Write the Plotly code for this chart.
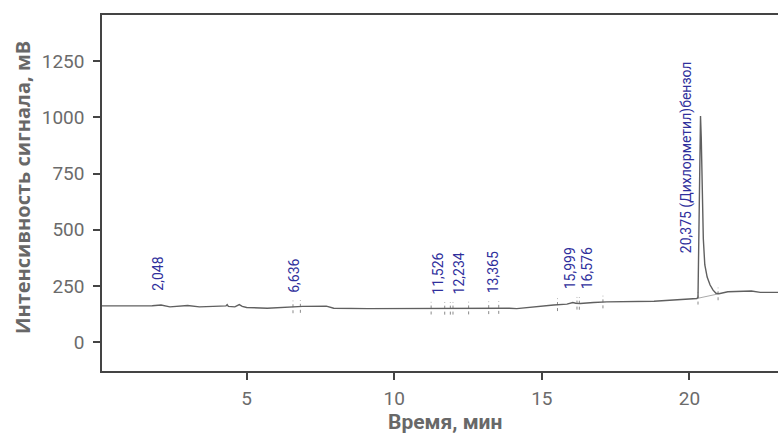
import numpy as np
import plotly.graph_objects as go

# --- data -------------------------------------------------------------
time_min = [0.1, 1.0, 1.8, 2.1, 2.4, 3.0, 3.4, 4.1, 4.3, 4.34, 4.38, 4.6, 4.75, 4.85,
            5.0, 5.7, 6.5, 6.9, 7.7, 7.95, 9.1, 11.3, 11.6, 13.0, 13.6, 13.9, 14.15,
            14.5, 15.0, 15.4, 15.85, 16.05, 16.15, 16.3, 16.75, 17.2, 18.8, 19.9,
            20.25, 20.29, 20.32, 20.35, 20.375, 20.40, 20.43, 20.47, 20.52, 20.60,
            20.70, 20.80, 20.90, 21.0, 21.3, 22.1, 22.4, 23.0]
signal_mv = [162, 162, 163, 166, 158, 164, 158, 161, 162, 168, 160, 158, 168, 160,
             155, 152, 157, 160, 161, 152, 150, 152, 151, 153, 155, 152, 150,
             155, 160, 166, 170, 177, 174, 173, 177, 180, 183, 191,
             195, 200, 520, 900, 1005, 910, 660, 460, 345, 290,
             255, 232, 218, 216, 225, 228, 222, 222]

peak_times = [2.048, 6.636, 11.526, 12.234, 13.365, 15.999, 16.576, 20.375]
peak_labels = ["2,048", "6,636", "11,526", "12,234", "13,365", "15,999", "16,576",
               "20,375 (Дихлорметил)бензол"]

marker_times = [6.57, 6.82, 11.25, 11.71, 11.90, 11.99, 12.52, 13.20, 13.54,
                15.53, 16.19, 16.27, 17.07, 20.29, 20.97]

x_ticks = [5, 10, 15, 20]
y_ticks = [0, 250, 500, 750, 1000, 1250]

# --- helpers ------------------------------------------------------------
t = np.array(time_min)
s = np.array(signal_mv)
base_mask = (t < 20.29) | (t > 20.95)
t_base, s_base = t[base_mask], s[base_mask]

fig = go.Figure()

# integration markers
for mt in marker_times:
    v = float(np.interp(mt, t_base, s_base))
    fig.add_trace(go.Scatter(x=[mt, mt], y=[v - 28, v + 28], mode="lines",
                             line=dict(color="#8a8a8a", width=1, dash="dot"),
                             hoverinfo="skip", showlegend=False))

# baseline under the main peak
fig.add_trace(go.Scatter(x=[20.29, 20.97],
                         y=[float(np.interp(20.29, t_base, s_base)),
                            float(np.interp(20.97, t_base, s_base))],
                         mode="lines", line=dict(color="#aaaaaa", width=1),
                         hoverinfo="skip", showlegend=False))

# chromatogram
fig.add_trace(go.Scatter(x=time_min, y=signal_mv, mode="lines",
                         line=dict(color="#606060", width=1.4),
                         showlegend=False))

for pt, lab in zip(peak_times, peak_labels):
    v = float(np.interp(pt, t_base, s_base))
    big = pt > 20
    fig.add_annotation(x=pt, y=v, text=lab, textangle=-90, showarrow=False,
                       xanchor="center", yanchor="bottom",
                       yshift=42 if big else 12, xshift=-14 if big else -1,
                       font=dict(family="Roboto", size=14, color="#2f2f9c"))

axis_font = dict(family="Roboto", size=19, color="#6b6b6b")
xtitle_font = dict(family="Roboto", size=21, color="#686868", weight="bold")
ytitle_font = dict(family="Open Sans", size=20, color="#686868", weight="bold")

# axis titles as annotations for exact placement
fig.add_annotation(text="Время, мин", xref="paper", yref="paper", x=0.507, y=0,
                   yshift=-51, xanchor="center", yanchor="middle",
                   showarrow=False, font=xtitle_font)
fig.add_annotation(text="Интенсивность сигнала, мВ", xref="paper", yref="paper",
                   x=0, y=0.514, xshift=-80, xanchor="center", yanchor="middle",
                   textangle=-90, showarrow=False, font=ytitle_font)

fig.update_layout(
    width=778, height=433,
    margin=dict(l=102, r=0, t=15, b=62),
    plot_bgcolor="white", paper_bgcolor="white",
    xaxis=dict(range=[0.1, 23.0], tickvals=x_ticks, ticks="outside", ticklen=7,
               tickwidth=1.5, tickcolor="#444", showline=True, linecolor="#444",
               linewidth=1.5, mirror=True, showgrid=False, zeroline=False,
               tickfont=axis_font, automargin=False, ticklabelstandoff=2),
    yaxis=dict(range=[-127, 1454], tickvals=y_ticks, ticks="outside", ticklen=7,
               tickwidth=1.5, tickcolor="#444", showline=True, linecolor="#444",
               linewidth=1.5, mirror=False, showgrid=False, zeroline=False,
               tickfont=axis_font, automargin=False, ticklabelstandoff=5),
)

fig.write_html("out.html", config={"displayModeBar": False},
               post_script="document.body.style.margin='0';"
                           "document.body.style.overflow='hidden';")
